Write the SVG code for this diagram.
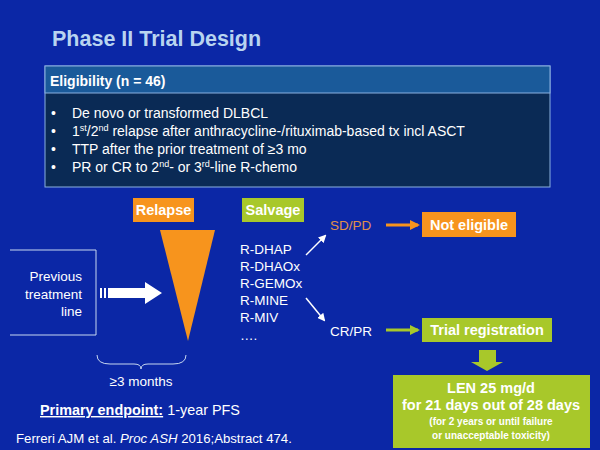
<svg xmlns="http://www.w3.org/2000/svg" width="600" height="450" viewBox="0 0 600 450">
<style>
text{font-family:"Liberation Sans",Arial,sans-serif;fill:#fff}
.b{font-weight:bold}
.w{font-size:13.5px}
.lbl{font-size:14.5px;font-weight:bold;fill:#fff}
</style>
<defs>
<marker id="ah" markerWidth="8" markerHeight="8" refX="6" refY="4" orient="auto" markerUnits="userSpaceOnUse"><path d="M0,0 L8,4 L0,8 Z" fill="#fff"/></marker>
<marker id="ao" markerWidth="10" markerHeight="10" refX="8" refY="5" orient="auto" markerUnits="userSpaceOnUse"><path d="M0,0 L10,5 L0,10 Z" fill="#f7941d"/></marker>
<marker id="ag" markerWidth="10" markerHeight="10" refX="8" refY="5" orient="auto" markerUnits="userSpaceOnUse"><path d="M0,0 L10,5 L0,10 Z" fill="#a8c82a"/></marker>
</defs>
<rect width="600" height="450" fill="#0b27a6"/>
<text x="52" y="46" class="b" font-size="21.5" style="fill:#b8d4f0">Phase II Trial Design</text>
<g id="eligibility">
<rect x="45" y="66" width="505" height="121" fill="#0a2a55" stroke="#8ab0e0"/>
<rect x="45" y="66" width="505" height="27" fill="#1a5a9a" stroke="#8ab0e0"/>
<text x="50" y="86" class="b" font-size="14">Eligibility (n = 46)</text>
<g font-size="14">
<text x="51" y="118">•</text><text x="72" y="118">De novo or transformed DLBCL</text>
<text x="51" y="136">•</text><text x="72" y="136">1<tspan font-size="9" dy="-5">st</tspan><tspan dy="5">/2</tspan><tspan font-size="9" dy="-5">nd</tspan><tspan dy="5"> relapse after anthracycline-/rituximab-based tx incl ASCT</tspan></text>
<text x="51" y="154">•</text><text x="72" y="154">TTP after the prior treatment of ≥3 mo</text>
<text x="51" y="172">•</text><text x="72" y="172">PR or CR to 2<tspan font-size="9" dy="-5">nd</tspan><tspan dy="5">- or 3</tspan><tspan font-size="9" dy="-5">rd</tspan><tspan dy="5">-line R-chemo</tspan></text>
</g>
</g>
<g id="relapse"><rect x="133" y="198" width="61" height="24" fill="#f7941d"/><text x="163.5" y="215" text-anchor="middle" class="lbl">Relapse</text></g>
<g id="salvage"><rect x="242" y="198" width="62" height="24" fill="#a8c82a"/><text x="273" y="215" text-anchor="middle" class="lbl">Salvage</text></g>
<g id="triangle"><polygon points="160,230 215,230 188,341" fill="#f7941d"/></g>
<g id="previous">
<path d="M10,250 H96 V335 H10" fill="none" stroke="#c8d8f0" stroke-width="1"/>
<text x="82" y="281" text-anchor="end" class="w">Previous</text>
<text x="82" y="299" text-anchor="end" class="w">treatment</text>
<text x="82" y="316" text-anchor="end" class="w">line</text>
</g>
<g id="brace"><path d="M97,355 Q97,364 110,364 H134 Q141,364 141,369 Q141,364 148,364 H173 Q186,364 186,355" fill="none" stroke="#c8d8f0"/>
<text x="141" y="386" text-anchor="middle" class="w">≥3 months</text></g>
<g id="drugs" class="w">
<text x="240" y="254">R-DHAP</text><text x="240" y="271">R-DHAOx</text><text x="240" y="288">R-GEMOx</text><text x="240" y="305">R-MINE</text><text x="240" y="322">R-MIV</text><text x="240" y="340">….</text>
</g>
<g id="sdpd"><text x="330" y="230" class="w" style="fill:#e0904a">SD/PD</text></g>
<g id="noteligible"><rect x="422" y="212" width="94" height="25" fill="#f7941d"/><text x="469" y="230" text-anchor="middle" class="lbl">Not eligible</text></g>
<g id="crpr"><text x="330" y="336" class="w">CR/PR</text></g>
<g id="trialreg"><rect x="422" y="318" width="130" height="24" fill="#a8c82a"/><text x="487" y="335" text-anchor="middle" class="lbl">Trial registration</text></g>
<g id="len"><rect x="393" y="375" width="197" height="73" fill="#a8c82a"/>
<text x="491" y="393" text-anchor="middle" class="lbl">LEN 25 mg/d</text>
<text x="491" y="410" text-anchor="middle" class="lbl">for 21 days out of 28 days</text>
<text x="491" y="425" text-anchor="middle" class="b" font-size="10">(for 2 years or until failure</text>
<text x="491" y="439" text-anchor="middle" class="b" font-size="10">or unacceptable toxicity)</text></g>
<g id="connectors">
<rect x="100" y="288" width="2" height="10" fill="#fff"/><rect x="104" y="288" width="2" height="10" fill="#fff"/>
<polygon points="108,288 145,288 145,282 162,293 145,304 145,298 108,298" fill="#fff"/>
<line x1="306" y1="255" x2="325" y2="236" stroke="#fff" stroke-width="1.5" marker-end="url(#ah)"/>
<line x1="306" y1="298" x2="324" y2="320" stroke="#fff" stroke-width="1.5" marker-end="url(#ah)"/>
<line x1="386" y1="225" x2="418" y2="225" stroke="#f7941d" stroke-width="3" marker-end="url(#ao)"/>
<line x1="386" y1="330" x2="418" y2="330" stroke="#a8c82a" stroke-width="3" marker-end="url(#ag)"/>
<polygon points="479,350 496,350 496,362 503,362 487,371 471,362 479,362" fill="#a8c82a"/>
</g>
<text x="40" y="415" font-size="14.4"><tspan class="b" text-decoration="underline">Primary endpoint:</tspan> 1-year PFS</text>
<text x="16" y="443" font-size="13.2">Ferreri AJM et al. <tspan font-style="italic">Proc ASH</tspan> 2016;Abstract 474.</text>
</svg>
